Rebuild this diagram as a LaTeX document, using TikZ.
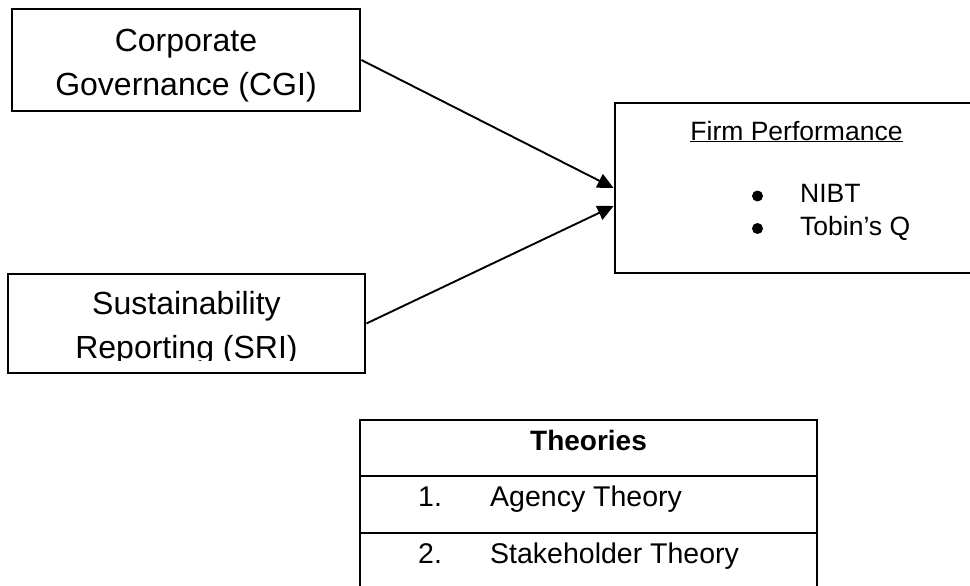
\documentclass[tikz,border=0pt]{standalone}
\usepackage{fontspec}
\setmainfont{Liberation Sans}
\usetikzlibrary{arrows.meta}

\begin{document}
\begin{tikzpicture}[
            x=1pt, y=-1pt,
            box/.style={draw, line width=2.8pt, inner sep=0pt},
            arrow/.style={-{Triangle[length=16pt,width=15pt]}, line width=1.9pt},
            grid/.style={line width=2.8pt},
            dot/.style={circle, fill, inner sep=0pt, minimum size=11pt},
            big/.style={font=\fontsize{32}{43.5}\selectfont, align=center, inner sep=0pt},
            small/.style={font=\fontsize{26.5}{33}\selectfont, inner sep=0pt},
            entry/.style={font=\fontsize{28.5}{34}\selectfont, inner sep=0pt, anchor=base west}
        ]
            \useasboundingbox (0,0) rectangle (970,586);

            % Left column - the two drivers
            \node[box, minimum width=348pt, minimum height=102pt] (cgi) at (186,60) {};
            \node[big] (cgitext) at (186,65.5) {Corporate\\Governance (CGI)};

            \node[box, minimum width=357pt, minimum height=99pt] (sri) at (186.5,323.5) {};
            \begin{scope}
                \clip (0,274) rectangle (400,360);
                \node[big] (sritext) at (186.5,328) {Sustainability\\Reporting (SRI)};
            \end{scope}

            % Right box - outcome
            \node[box, minimum width=363pt, minimum height=170pt] (perf) at (796.5,188) {};
            \node[small, anchor=base] (perftitle) at (796.5,140) {\underline{Firm Performance}};
            \node[dot] (bullet1) at (757.5,196) {};
            \node[small, anchor=base west] (nibt) at (800,202) {NIBT};
            \node[dot] (bullet2) at (757.5,228.5) {};
            \node[small, anchor=base west] (tobin) at (800,235) {Tobin’s Q};

            % Arrows into the outcome box
            \draw[arrow] (cgi.east) -- (perf.west);
            \draw[arrow] (sri.east) -- ([yshift=-18pt]perf.west);

            % Theories table (open at the bottom)
            \draw[grid] (360,595) -- (360,420) -- (817,420) -- (817,595);
            \draw[grid] (360,476) -- (817,476);
            \draw[grid] (360,533) -- (817,533);
            \node[anchor=base, inner sep=0pt, font=\fontsize{28}{34}\selectfont\bfseries] (theories) at (588.5,450) {Theories};
            \node[entry] (num1) at (418,506) {1.};
            \node[entry] (agency) at (490,506) {Agency Theory};
            \node[entry] (num2) at (418,563) {2.};
            \node[entry] (stakeholder) at (490,563) {Stakeholder Theory};
        \end{tikzpicture}
\end{document}
